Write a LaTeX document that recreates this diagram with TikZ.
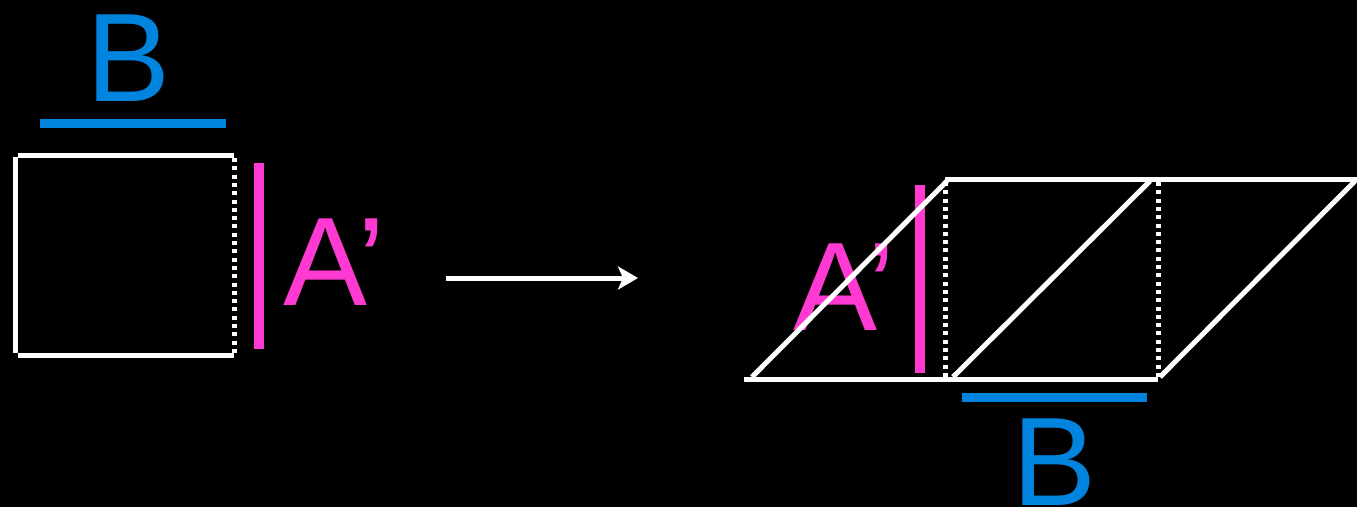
\documentclass[tikz,border=0pt]{standalone}
\usepackage{fontspec}
\usetikzlibrary{arrows.meta}
\setmainfont{Liberation Sans}
\definecolor{barblue}{RGB}{0,132,222}
\definecolor{barpink}{RGB}{255,58,210}
\begin{document}
\begin{tikzpicture}[x=1pt,y=-1pt]
        \fill[black] (0,0) rectangle (1357,507);
        \useasboundingbox (0,0) rectangle (1357,507);
        % square
        \draw[white,line width=5pt] (18,155) -- (234,155);
        \draw[white,line width=5pt] (15.5,157) -- (15.5,353);
        \draw[white,line width=5pt] (18,355) -- (234,355);
        \draw[white,line width=5pt,dash pattern=on 4pt off 4.3pt] (234.5,158) -- (234.5,354);
        \draw[barblue,line width=9pt] (40,123) -- (226,123);
        \draw[barpink,line width=10pt] (258.5,163) -- (258.5,349);
        \node[barblue,anchor=base,inner sep=0pt,font=\fontsize{126}{126}\selectfont] (bl) at (129,101) {B};
        \node[barpink,anchor=base west,inner sep=0pt,font=\fontsize{126}{126}\selectfont] (al) at (283,305) {A’};
        % arrow
        \coordinate (s) at (446,278);
        \coordinate (t) at (638,278);
        \draw[white,line width=5pt,-{Stealth[length=20pt,width=23pt,inset=5pt]}] (s) -- (t);
        % parallelograms
        \draw[barpink,line width=10pt] (920,185) -- (920,373);
        \draw[barblue,line width=9pt] (962,397) -- (1147,397);
        \node[barpink,anchor=base west,inner sep=0pt,font=\fontsize{126}{126}\selectfont] (ar) at (793,330) {A’};
        \node[barblue,anchor=base,inner sep=0pt,font=\fontsize{126}{126}\selectfont] (br) at (1055,505) {B};
        \draw[white,line width=5pt] (744,379) -- (1158,379);
        \draw[white,line width=5pt] (945,179) -- (1357,179);
        \draw[white,line width=5pt] (752,377) -- (947,181);
        \draw[white,line width=5pt] (953,377) -- (1150,181);
        \draw[white,line width=5pt] (1160,377) -- (1355,181);
        \draw[white,line width=5pt,dash pattern=on 4pt off 4.3pt] (945,182) -- (945,377);
        \draw[white,line width=5pt,dash pattern=on 4pt off 4.3pt] (1158,182) -- (1158,377);
    \end{tikzpicture}
\end{document}
